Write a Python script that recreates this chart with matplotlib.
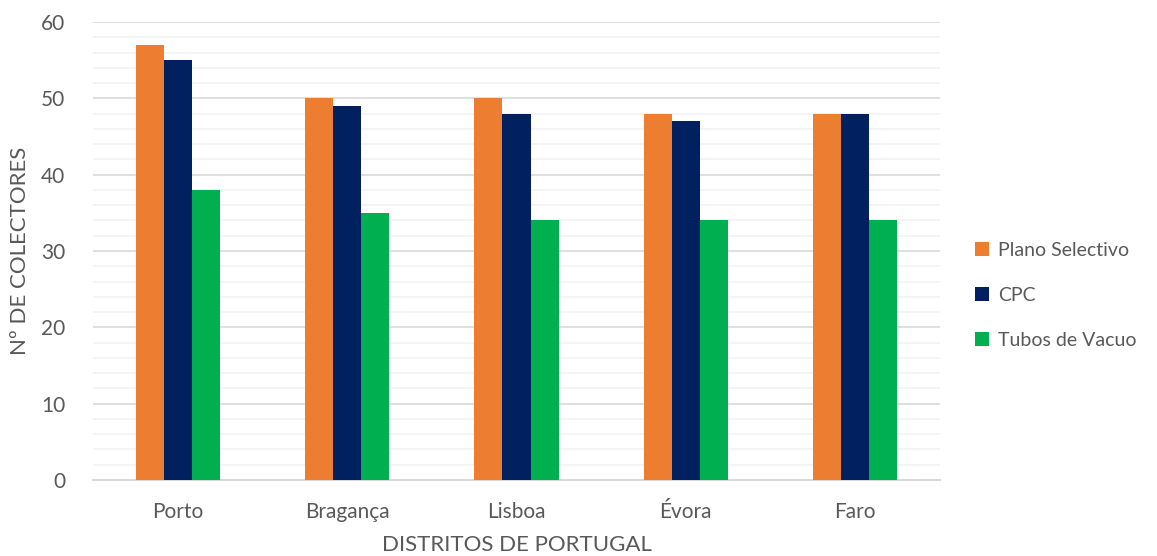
import matplotlib.pyplot as plt
import numpy as np
from matplotlib.patches import Patch

# Data
districts = ['Porto', 'Bragança', 'Lisboa', 'Évora', 'Faro']
plano_selectivo = [57, 50, 50, 48, 48]
cpc = [55, 49, 48, 47, 48]
tubos_vacuo = [38, 35, 34, 34, 34]
series_names = ['Plano Selectivo', 'CPC', 'Tubos de Vacuo']
series_colors = ['#ED7D31', '#002060', '#00B050']

plt.rcParams['font.family'] = ['Lato', 'DejaVu Sans']
text_color = '#595959'

fig = plt.figure(figsize=(11.57, 5.56), dpi=100)
ax = fig.add_axes([0.0804, 0.1367, 0.7320, 0.8237])

x = np.arange(len(districts))
width = 0.166
for i, (vals, color) in enumerate(zip([plano_selectivo, cpc, tubos_vacuo], series_colors)):
    ax.bar(x + (i - 1) * width, vals, width, color=color, zorder=3)

ax.set_xlim(-0.5, len(districts) - 0.5)
ax.set_ylim(0, 60)
ax.set_yticks(range(0, 61, 10))
ax.set_yticks(range(0, 61, 2), minor=True)
ax.grid(axis='y', which='major', color='#D9D9D9', linewidth=1.2, zorder=0)
ax.grid(axis='y', which='minor', color='#F2F2F2', linewidth=1.2, zorder=0)
ax.tick_params(axis='y', which='both', length=0, labelsize=15, colors=text_color, pad=20)
ax.set_xticks(x)
ax.set_xticklabels(districts)
ax.tick_params(axis='x', length=0, labelsize=15, colors=text_color, pad=16)

for side in ['top', 'right', 'left']:
    ax.spines[side].set_visible(False)
ax.spines['bottom'].set_color('#D9D9D9')
ax.spines['bottom'].set_linewidth(1.5)

ax.set_xlabel('DISTRITOS DE PORTUGAL', fontsize=16, color=text_color, labelpad=9)
ax.set_ylabel('Nº DE COLECTORES', fontsize=16, color=text_color, labelpad=8)

# Legend on the right
handles = [Patch(facecolor=c) for c in series_colors]
fig.legend(handles, series_names, loc='center left', bbox_to_anchor=(0.843, 0.469),
           frameon=False, fontsize=14, labelcolor=text_color, borderaxespad=0, borderpad=0,
           handlelength=0.7, handleheight=0.7, handletextpad=0.45, labelspacing=1.45)

fig.savefig('out.png', dpi=100)
